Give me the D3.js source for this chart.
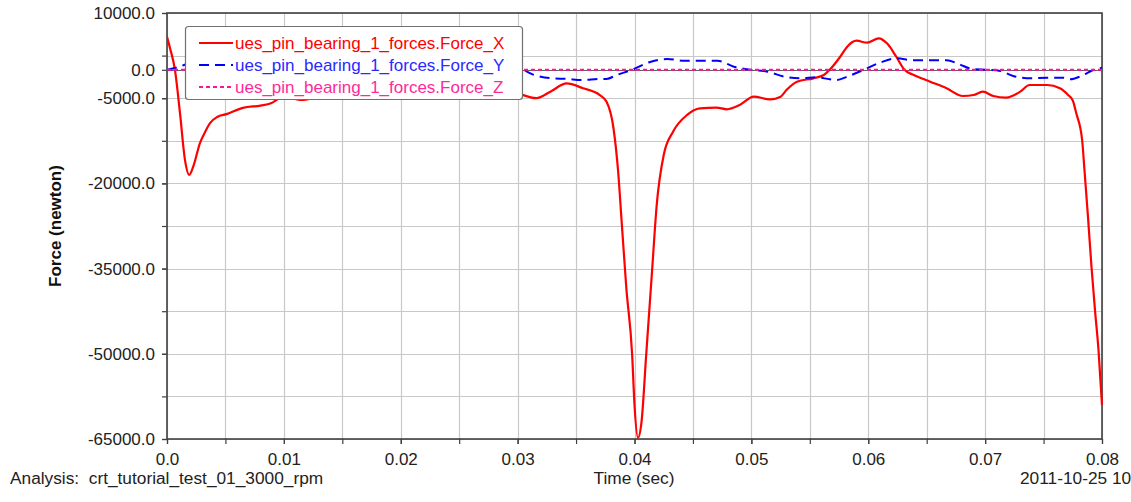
<!DOCTYPE html>
<html>
<head>
<meta charset="utf-8">
<script src="https://cdn.jsdelivr.net/npm/d3@7"></script>
<style>
  html, body { margin: 0; padding: 0; background: #ffffff; overflow: hidden; }
  svg { display: block; }
  text { font-family: "Liberation Sans", Arial, sans-serif; }
</style>
</head>
<body>
<svg id="chart" width="1131" height="502"></svg>
<script>
// ---------------- data ----------------
const seriesNames = [
  "ues_pin_bearing_1_forces.Force_X",
  "ues_pin_bearing_1_forces.Force_Y",
  "ues_pin_bearing_1_forces.Force_Z"
];

const timeX = [
  0, 0.00026, 0.00068, 0.00111, 0.00154, 0.0019, 0.00225, 0.00282, 0.00325, 0.00368,
  0.0043, 0.0051, 0.0065, 0.0080, 0.0089, 0.0097, 0.0102, 0.0108, 0.0114, 0.0120,
  0.0127, 0.0133, 0.0139, 0.0153, 0.0162, 0.0167, 0.0176, 0.0182, 0.0190, 0.0199,
  0.0209, 0.0216, 0.0224, 0.0231, 0.0239, 0.0253, 0.0267, 0.0281, 0.0290, 0.0298,
  0.0304, 0.0316, 0.0328, 0.0342, 0.0356, 0.0370, 0.0376, 0.0382, 0.0386, 0.0389,
  0.0393, 0.0398, 0.0400, 0.0403, 0.0406, 0.0410, 0.0415, 0.0419, 0.0425, 0.0433,
  0.0445, 0.0456, 0.0470, 0.0479, 0.0490, 0.0502, 0.0516, 0.0525, 0.0530, 0.0539,
  0.0553, 0.0562, 0.0567, 0.0576, 0.0582, 0.0590, 0.0599, 0.0609, 0.0616, 0.0624,
  0.0631, 0.0639, 0.0653, 0.0667, 0.0681, 0.0690, 0.0698, 0.0707, 0.0718, 0.0730,
  0.0738, 0.0753, 0.0764, 0.0771, 0.0775, 0.0778, 0.0783, 0.0785, 0.0788, 0.0791,
  0.0794, 0.0797, 0.0800
];
const forceX = [
  5800, 3800, 0, -7600, -15900, -18500, -17000, -12900, -11000, -9400,
  -8300, -7800, -6700, -6300, -5900, -4900, -4700, -5000, -5300, -5200,
  -4700, -3600, -2100, -1500, -900, 0, 2300, 4100, 5100, 4800,
  5500, 4700, 2300, 0, -900, -2100, -3300, -4600, -4400, -3900,
  -4400, -5000, -3850, -2400, -3250, -4400, -5600, -10250, -17900, -26700,
  -38400, -50200, -59000, -64800, -62000, -50200, -35500, -23800, -15000, -10900,
  -7950, -6800, -6650, -6950, -6200, -4740, -5200, -4730, -3560, -2090,
  -1500, -920, 0, 2300, 4070, 5120, 4770, 5540, 4660, 2300,
  0, -920, -2090, -3260, -4610, -4440, -3850, -4610, -4900, -3850,
  -2680, -2680, -3260, -4440, -5400, -7660, -12360, -17640, -25860, -34670,
  -42300, -49300, -59000
];

const timeY = [
  0, 0.0009, 0.0014, 0.0028, 0.0042, 0.0071, 0.0085, 0.0100, 0.0114, 0.0128,
  0.0142, 0.0156, 0.0167, 0.0173, 0.0182, 0.0196, 0.0210, 0.0224, 0.0238, 0.0252,
  0.0267, 0.0278, 0.0289, 0.0301, 0.0314, 0.0328, 0.0342, 0.0356, 0.0370, 0.0376,
  0.0385, 0.0398, 0.0414, 0.0428, 0.0442, 0.0457, 0.0471, 0.0485, 0.0500, 0.0514,
  0.0528, 0.0542, 0.0556, 0.0567, 0.0573, 0.0582, 0.0596, 0.0610, 0.0624, 0.0638,
  0.0652, 0.0667, 0.0678, 0.0689, 0.0701, 0.0713, 0.0724, 0.0739, 0.0753, 0.0767,
  0.0773, 0.0782, 0.0793, 0.0800
];
const forceY = [
  0, 450, 800, 1700, 1600, 1600, 550, 0, -330, -1200,
  -1500, -1320, -1670, -1800, -1200, 0, 1250, 2000, 1700, 1700,
  1700, 970, 140, 200, -900, -1460, -1600, -1800, -1600, -1600,
  -900, 0, 1430, 1900, 1600, 1600, 1600, 550, 0, -330,
  -1200, -1500, -1320, -1670, -1800, -1200, 0, 1250, 2020, 1700,
  1700, 1700, 970, 140, 0, -200, -1100, -1500, -1400, -1400,
  -1670, -1100, 0, 370
];

const timeZ = [0, 0.02, 0.04, 0.06, 0.08];
const forceZ = [0, 0, 0, 0, 0];

const xLabelTicks = [0, 0.01, 0.02, 0.03, 0.04, 0.05, 0.06, 0.07, 0.08];
const xGridTicks = [0, 0.005, 0.01, 0.015, 0.02, 0.025, 0.03, 0.035, 0.04, 0.045,
                    0.05, 0.055, 0.06, 0.065, 0.07, 0.075, 0.08];
const yLabelTicks = [10000, 0, -5000, -20000, -35000, -50000, -65000];
const yGridTicks = [10000, 2500, -5000, -12500, -20000, -27500, -35000, -42500, -50000, -57500, -65000];

const xTitle = "Time (sec)";
const yTitle = "Force (newton)";
const analysisText = "Analysis:  crt_tutorial_test_01_3000_rpm";
const dateText = "2011-10-25 10:41:37";

// ---------------- layout ----------------
const svg = d3.select("#chart");
const L = 167, R = 1102, T = 13, B = 439;
const x = d3.scaleLinear().domain([0, 0.08]).range([L, R]);
const y = d3.scaleLinear().domain([-65000, 10000]).range([B, T]);

const colors = ["#ff0000", "#0000ff", "#ff1493"];
const textColors = ["#ff0000", "#2a2aff", "#ff2a9a"];
const dashes = [null, "10,6", "4,3"];

// grid
const grid = svg.append("g");
grid.selectAll("line.vx").data(xGridTicks).enter().append("line")
  .attr("x1", d => Math.round(x(d)) + 0.5).attr("x2", d => Math.round(x(d)) + 0.5)
  .attr("y1", T).attr("y2", B)
  .attr("stroke", "#c8c8c8").attr("stroke-width", 1.2);
grid.selectAll("line.hy").data(yGridTicks).enter().append("line")
  .attr("y1", d => Math.round(y(d)) + 0.5).attr("y2", d => Math.round(y(d)) + 0.5)
  .attr("x1", L).attr("x2", R)
  .attr("stroke", "#c8c8c8").attr("stroke-width", 1.2);
// zero line
svg.append("line")
  .attr("x1", L).attr("x2", R)
  .attr("y1", Math.round(y(0)) + 0.5).attr("y2", Math.round(y(0)) + 0.5)
  .attr("stroke", "#606060").attr("stroke-width", 1);

// axes
const axisColor = "#404040";
const yAxis = svg.append("g").attr("transform", `translate(${L},0)`)
  .call(d3.axisLeft(y).tickValues(yLabelTicks).tickSize(5).tickPadding(7)
        .tickFormat(d => d.toFixed(1)));
const yMinor = svg.append("g").attr("transform", `translate(${L},0)`)
  .call(d3.axisLeft(y).tickValues(yGridTicks).tickSize(5).tickFormat(""));
const xAxis = svg.append("g").attr("transform", `translate(0,${B})`)
  .call(d3.axisBottom(x).tickValues(xLabelTicks).tickSize(5).tickPadding(9)
        .tickFormat(d => d === 0 ? "0.0" : String(+d.toFixed(2))));
const xMinor = svg.append("g").attr("transform", `translate(0,${B})`)
  .call(d3.axisBottom(x).tickValues(xGridTicks).tickSize(5).tickFormat(""));
[yAxis, yMinor, xAxis, xMinor].forEach(g => {
  g.select(".domain").remove();
  g.selectAll(".tick line").attr("stroke", axisColor).attr("stroke-width", 1.2);
  g.selectAll(".tick text").attr("fill", "#222").style("font-size", "17px")
    .style("font-family", "'Liberation Sans', Arial, sans-serif");
});

// frame
svg.append("rect").attr("x", L).attr("y", T).attr("width", R - L).attr("height", B - T)
  .attr("fill", "none").attr("stroke", axisColor).attr("stroke-width", 1.6);

// lines
svg.append("clipPath").attr("id", "plotclip").append("rect")
  .attr("x", L).attr("y", T - 1).attr("width", R - L + 1).attr("height", B - T + 2);
const plot = svg.append("g").attr("clip-path", "url(#plotclip)");
const mk = (ts, vs) => ts.map((t, i) => [t, vs[i]]);
const line = d3.line().x(d => x(d[0])).y(d => y(d[1])).curve(d3.curveMonotoneX);
const seriesData = [mk(timeX, forceX), mk(timeY, forceY), mk(timeZ, forceZ)];
seriesData.forEach((data, i) => {
  plot.append("path").datum(data)
    .attr("d", line)
    .attr("fill", "none")
    .attr("stroke", colors[i])
    .attr("stroke-width", i === 0 ? 2.2 : 2)
    .attr("stroke-dasharray", dashes[i])
    .attr("stroke-linejoin", "round");
});

// legend
const lg = svg.append("g");
lg.append("rect").attr("x", 185.5).attr("y", 26.5).attr("width", 337).attr("height", 73)
  .attr("rx", 3).attr("fill", "#ffffff").attr("stroke", "#707070").attr("stroke-width", 1.2);
seriesNames.forEach((name, i) => {
  const yy = 43 + i * 22;
  lg.append("line").attr("x1", 199).attr("x2", 233).attr("y1", yy).attr("y2", yy)
    .attr("stroke", colors[i]).attr("stroke-width", 2)
    .attr("stroke-dasharray", dashes[i]);
  lg.append("text").attr("x", 235).attr("y", yy).attr("dy", "0.36em")
    .attr("fill", textColors[i]).style("font-size", "17px").text(name);
});

// titles
svg.append("text")
  .attr("transform", `translate(61,${(T + B) / 2}) rotate(-90)`)
  .attr("text-anchor", "middle").attr("fill", "#111")
  .style("font-size", "17px").style("font-weight", "bold").text(yTitle);
svg.append("text").attr("x", 634).attr("y", 484).attr("text-anchor", "middle")
  .attr("fill", "#222").style("font-size", "17.3px").text(xTitle);
svg.append("text").attr("x", 10).attr("y", 484).attr("fill", "#222")
  .style("font-size", "17.3px").style("white-space", "pre").attr("xml:space", "preserve")
  .text(analysisText);
// the date stamp runs past the right edge of the window, as in the reference
svg.append("text").attr("x", 1020).attr("y", 484).attr("fill", "#222")
  .style("font-size", "17.3px").text(dateText);
</script>
</body>
</html>
